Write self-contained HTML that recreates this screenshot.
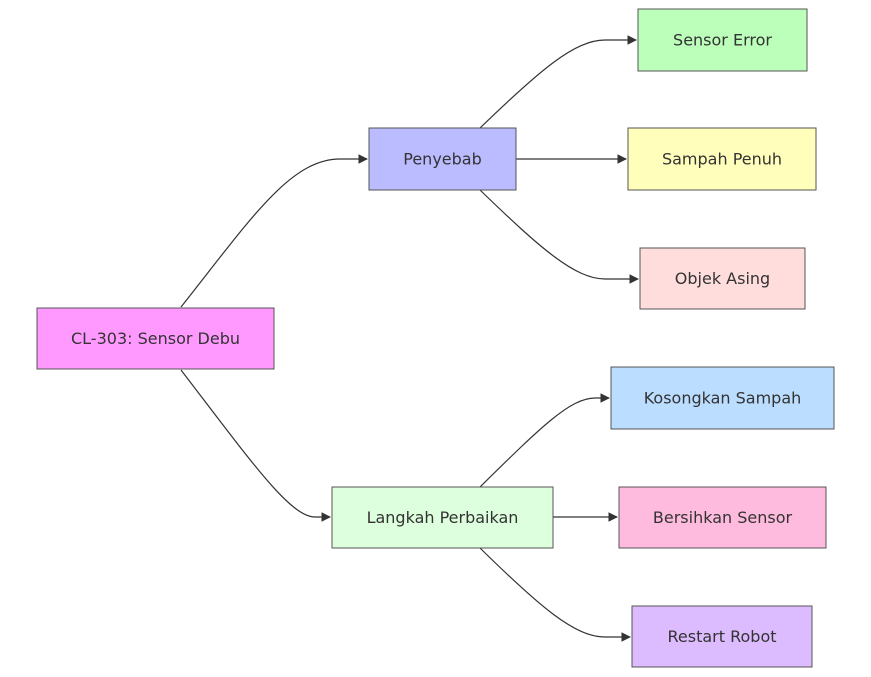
<!DOCTYPE html>
<html><head><meta charset="utf-8"><style>
body{margin:0;background:#fff;}
svg{display:block;}
text{font-family:"DejaVu Sans","Liberation Sans",sans-serif;font-size:16px;fill:#333;text-anchor:middle;dominant-baseline:central;}
rect{stroke:#555;stroke-width:1;}
path{fill:none;stroke:#333;stroke-width:1.2;}
</style></head><body>
<svg width="871" height="677" viewBox="0 0 871 677" xmlns="http://www.w3.org/2000/svg">
<defs><marker id="a" viewBox="0 0 10 10" refX="9" refY="5" markerWidth="8" markerHeight="8" orient="auto"><path d="M0,0 L10,5 L0,10 z" style="fill:#333;stroke:none"/></marker></defs>
<path d="M181,307 C250,220 290,159 340,159 L367,159" marker-end="url(#a)"/>
<path d="M181,370 C250,460 290,517 315,517 L330,517" marker-end="url(#a)"/>
<path d="M480,128 C540,70 575,40 605,40 L636,40" marker-end="url(#a)"/>
<path d="M516,159 L626,159" marker-end="url(#a)"/>
<path d="M480,190 C540,248 575,279 605,279 L638,279" marker-end="url(#a)"/>
<path d="M480,487 C540,428 570,398 595,398 L609,398" marker-end="url(#a)"/>
<path d="M553,517 L617,517" marker-end="url(#a)"/>
<path d="M480,548 C540,607 575,637 605,637 L630,637" marker-end="url(#a)"/>
<rect x="37" y="308" width="237" height="61" fill="#ff99ff"/><text x="155.5" y="338.5">CL-303: Sensor Debu</text>
<rect x="369" y="128" width="147" height="62" fill="#bbbbff"/><text x="442.5" y="159">Penyebab</text>
<rect x="332" y="487" width="221" height="61" fill="#ddffdd"/><text x="442.5" y="517.5">Langkah Perbaikan</text>
<rect x="638" y="9" width="169" height="62" fill="#bbffbb"/><text x="722.5" y="40">Sensor Error</text>
<rect x="628" y="128" width="188" height="62" fill="#ffffbb"/><text x="722" y="159">Sampah Penuh</text>
<rect x="640" y="248" width="165" height="61" fill="#ffdddd"/><text x="722.5" y="278.5">Objek Asing</text>
<rect x="611" y="367" width="223" height="62" fill="#bbddff"/><text x="722.5" y="398">Kosongkan Sampah</text>
<rect x="619" y="487" width="207" height="61" fill="#ffbbdd"/><text x="722.5" y="517.5">Bersihkan Sensor</text>
<rect x="632" y="606" width="180" height="61" fill="#ddbbff"/><text x="722" y="636.5">Restart Robot</text>
</svg>
</body></html>
